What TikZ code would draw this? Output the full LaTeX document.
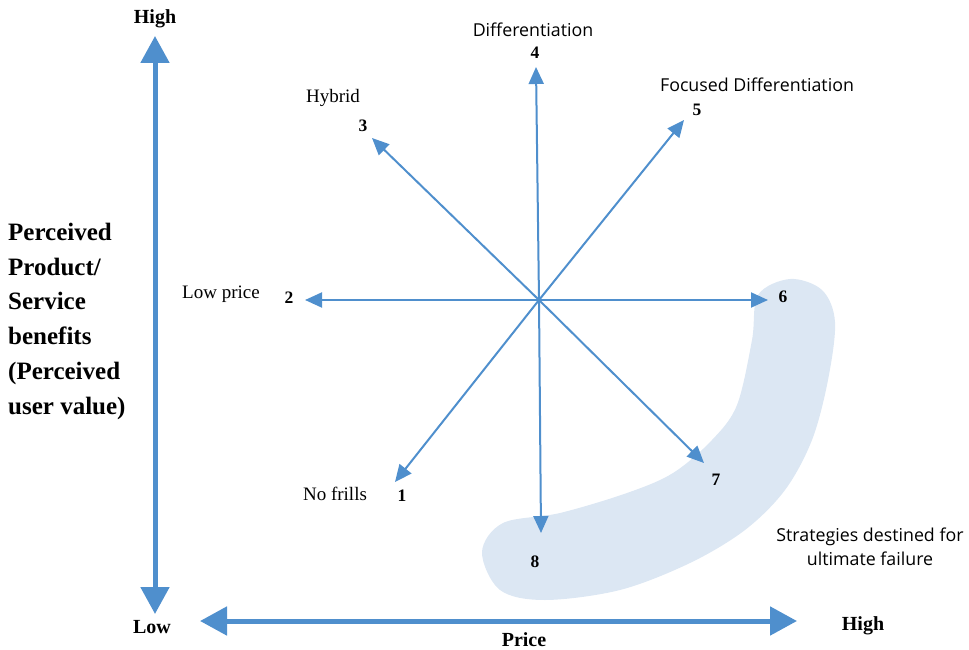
\documentclass[tikz,border=0pt]{standalone}
\usepackage{fontspec}
\setmainfont{Liberation Serif}
\newfontfamily\uisans{Open Sans}
\usetikzlibrary{arrows.meta}
\definecolor{ablue}{HTML}{4F8FCD}
\definecolor{blobc}{HTML}{DCE7F3}
\begin{document}
\begin{tikzpicture}[x=1pt,y=-1pt,
 axis/.style={ablue, line width=5pt, {Triangle[length=27pt,width=28pt]}-{Triangle[length=27pt,width=28pt]}},
 ray/.style={ablue, line width=2pt, -{Triangle[length=17pt,width=15pt]}},
 num/.style={font=\bfseries\fontsize{17.5}{19}\selectfont, inner sep=0pt},
 lbl/.style={font=\fontsize{19}{22}\selectfont, inner sep=0pt},
 slbl/.style={font=\uisans\fontsize{17.8}{21}\selectfont, inner sep=0pt},
 big/.style={font=\bfseries\fontsize{20}{22}\selectfont, inner sep=0pt}]
\useasboundingbox (0,0) rectangle (969,650);

% failure region
\fill[blobc] plot[smooth cycle, tension=0.55] coordinates {
 (790,279) (822,290) (835,322) (828,380) (812,440) (785,490) (745,530)
 (690,563) (620,590) (545,600) (500,590) (482,552) (503,523) (560,513)
 (627,493) (673,473) (712,440) (737,405) (752,340) (758,295)};

% axes
\coordinate (vtop) at (155,36);
\coordinate (vbot) at (155,614);
\coordinate (hl) at (200,621);
\coordinate (hr) at (797,621);
\draw[axis] (vbot) -- (vtop);
\draw[axis] (hl) -- (hr);

% rays
\coordinate (c) at (539,300);
\coordinate (t1) at (395,482);
\coordinate (t2) at (305,300);
\coordinate (t3) at (372,138);
\coordinate (t4) at (536,67);
\coordinate (t5) at (684,120);
\coordinate (t6) at (768,300);
\coordinate (t7) at (704,463);
\coordinate (t8) at (541,533);
\foreach \i in {1,...,8} \draw[ray] (c) -- (t\i);

% axis labels
\node[big] (hh) at (155,19) {High};
\node[big] (lo) at (152,627) {Low};
\node[big] (hx) at (863,626) {High};
\node[big] (pr) at (524,640) {Price};
\node[font=\bfseries\fontsize{25}{34.7}\selectfont, inner sep=0pt, align=left, anchor=north west] (yl) at (8,223)
 {Perceived\\Product/\\Service\\benefits\\(Perceived\\user value)};

% strategy labels
\node[slbl] (l4) at (533,30) {Differentiation};
\node[num] (n4) at (535,53) {4};
\node[slbl] (l5) at (757,85) {Focused Differentiation};
\node[num] (n5) at (697,110) {5};
\node[lbl] (l3) at (333,98) {Hybrid};
\node[num] (n3) at (363,126) {3};
\node[lbl] (l2) at (221,294) {Low price};
\node[num] (n2) at (289,298) {2};
\node[num] (n6) at (783,297) {6};
\node[num] (n7) at (716,480) {7};
\node[num] (n8) at (535,562) {8};
\node[lbl] (l1) at (335,494) {No frills};
\node[num] (n1) at (402,496) {1};
\node[slbl, align=center, font=\uisans\fontsize{17.8}{24}\selectfont] (fail) at (870,547) {Strategies destined for\\ultimate failure};
\end{tikzpicture}
\end{document}
